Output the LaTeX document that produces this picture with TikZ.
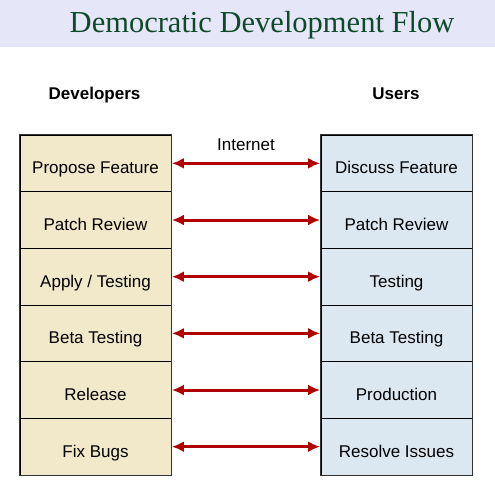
\documentclass[tikz,border=0pt]{standalone}
\usepackage{fontspec}
\setmainfont{Liberation Sans}
\newfontfamily\titlefont{Liberation Serif}
\usetikzlibrary{arrows.meta}
\definecolor{bandcol}{HTML}{E6E6F9}
\definecolor{titlecol}{HTML}{0E4A2A}
\definecolor{devcol}{HTML}{F2E8CA}
\definecolor{usrcol}{HTML}{DBE8F2}
\definecolor{arrcol}{HTML}{B00000}
\definecolor{edgecol}{HTML}{333333}
\tikzset{
  cell/.style={draw=black, line width=0.9pt, minimum width=151pt, minimum height=56.67pt,
    inner sep=0pt, font=\fontsize{17}{20}\selectfont, text height=21pt, text depth=0pt},
  devcell/.style={cell, fill=devcol},
  usrcell/.style={cell, fill=usrcol},
  head/.style={font=\fontsize{17}{20}\selectfont\bfseries, anchor=base},
  link/.style={draw=arrcol, line width=3pt, {Latex[length=12pt,width=11pt]}-{Latex[length=12pt,width=11pt]}, shorten <=0.5pt, shorten >=0.5pt}
}
\begin{document}
\begin{tikzpicture}[x=1pt,y=-1pt]
\useasboundingbox (0,0) rectangle (495,498);
\fill[bandcol] (0,0) rectangle (495,46.7);
\node[font=\titlefont\fontsize{30.5}{34}\selectfont, text=titlecol, anchor=base] (title) at (262,32) {Democratic Development Flow};
\node[head] (dev) at (94.5,99) {Developers};
\node[head] (usr) at (396,99) {Users};
\foreach \i/\l/\r in {1/{Propose Feature}/{Discuss Feature},2/{Patch Review}/{Patch Review},3/{Apply / Testing}/{Testing},4/{Beta Testing}/{Beta Testing},5/{Release}/{Production},6/{Fix Bugs}/{Resolve Issues}}{
  \node[devcell] (L\i) at (95.5,{135+56.67*(\i-0.5)}) {\l};
  \node[usrcell] (R\i) at (396.5,{135+56.67*(\i-0.5)}) {\r};
  \draw[link] (L\i.east) -- (R\i.west);
}
\draw[edgecol, line width=1.6pt] (L1.north west) rectangle (L6.south east);
\draw[edgecol, line width=1.6pt] (R1.north west) rectangle (R6.south east);
\node[font=\fontsize{17}{20}\selectfont, anchor=base] (net) at (246,150.5) {Internet};
\end{tikzpicture}
\end{document}
